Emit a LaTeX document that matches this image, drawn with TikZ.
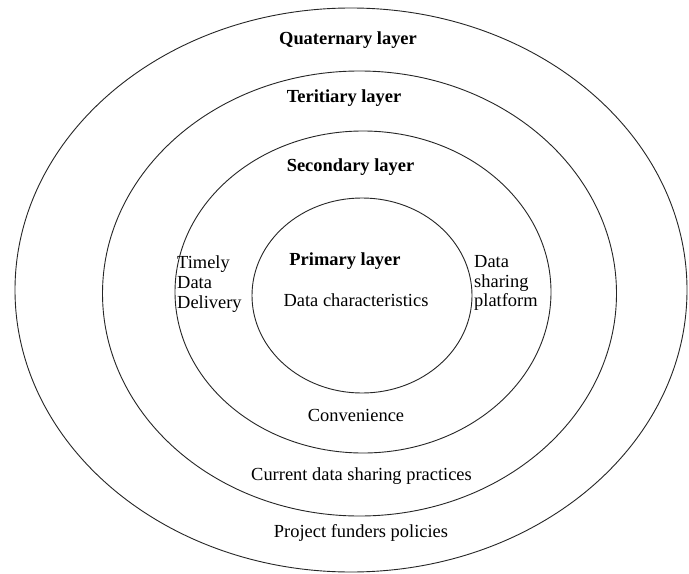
\documentclass[tikz,border=0pt]{standalone}
\usepackage{fontspec}
\setmainfont{Liberation Serif}
\begin{document}
\begin{tikzpicture}[x=1bp,y=-1bp,
  ring/.style={draw=black!85,line width=0.9bp},
  lbl/.style={inner sep=0pt,font=\fontsize{18.5}{20}\selectfont},
  blbl/.style={lbl,font=\fontsize{18.5}{20}\selectfont\bfseries},
  side/.style={lbl,align=left,anchor=west}]
\useasboundingbox (0,0) rectangle (689,574);
\fill[white] (0,0) rectangle (689,574);
\draw[ring] (351,290) ellipse [x radius=336, y radius=282];
\draw[ring] (359.5,293.5) ellipse [x radius=257, y radius=222.5];
\draw[ring] (363,292) ellipse [x radius=188, y radius=161];
\draw[ring] (362,295.5) ellipse [x radius=110, y radius=97.5];
\node[blbl] (q) at (348,40) {Quaternary layer};
\node[blbl] (t) at (344,98) {Teritiary layer};
\node[blbl] (s) at (350.5,167) {Secondary layer};
\node[blbl] (p) at (345,261) {Primary layer};
\node[lbl] (dc) at (356,300) {Data characteristics};
\node[side] (tdd) at (177,284) {Timely\\Data\\Delivery};
\node[side] (dsp) at (474,283) {Data\\sharing\\platform};
\node[lbl] (cv) at (356,415) {Convenience};
\node[lbl] (cd) at (361.5,476) {Current data sharing practices};
\node[lbl] (pf) at (361,533) {Project funders policies};
\end{tikzpicture}
\end{document}
